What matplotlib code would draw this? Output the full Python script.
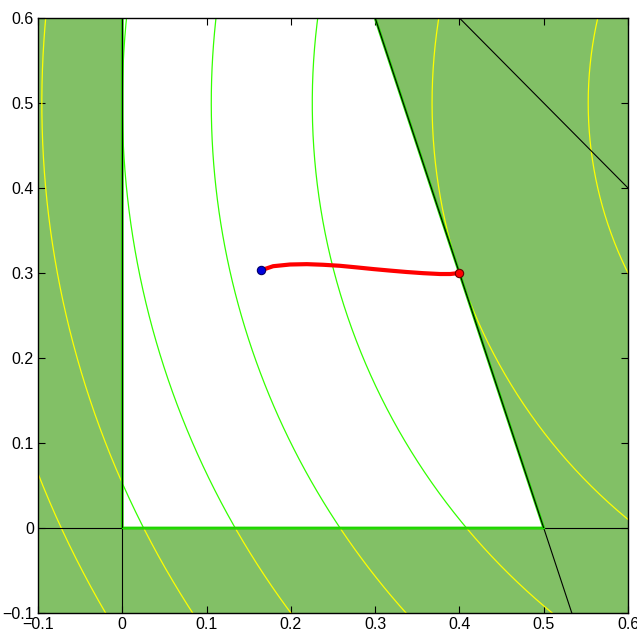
import numpy as np
import matplotlib
matplotlib.use("Agg")
import matplotlib.pyplot as plt

# ========== Data ==========
# objective f(x, y) = (x - cx)^2 + (y - cy)^2, contour levels shown
f_center = (1.0, 0.5)
levels = [0.2, 0.4, 0.6, 0.8, 1.0, 1.2, 1.4]

# constraints A @ [x, y] <= b
A = np.array([[-1.0, 0.0], [0.0, -1.0], [3.0, 1.0], [1.0, 1.0]])
b = np.array([0.0, 0.0, 1.5, 1.0])

# solver trajectory
path_x = [0.164, 0.179, 0.199, 0.219, 0.238, 0.258, 0.278, 0.298,
          0.318, 0.337, 0.357, 0.377, 0.389, 0.400]
path_y = [0.3030, 0.3080, 0.3100, 0.3104, 0.3097, 0.3085, 0.3066, 0.3046,
          0.3028, 0.3012, 0.2998, 0.2988, 0.2988, 0.3000]

xlim = (-0.1, 0.6)
ylim = (-0.1, 0.6)
ticks = np.round(np.arange(-0.1, 0.61, 0.1), 1)
tick_labels = ["\u22120.1", "0", "0.1", "0.2", "0.3", "0.4", "0.5", "0.6"]

FILL = "#82c066"
CONT_IN = "#33ff00"
CONT_OUT = "#ffff00"

plt.rcParams.update({
    "font.family": ["Liberation Sans", "DejaVu Sans"],
    "font.size": 11.5,
})

fig = plt.figure(figsize=(6.37, 6.37), dpi=100)
ax = fig.add_axes([38 / 637, 24 / 637, 590 / 637, 595 / 637])
ax.set_xlim(*xlim)
ax.set_ylim(*ylim)

# ========== infeasible regions ==========
ax.axvspan(xlim[0], 0, color=FILL, lw=0, zorder=1)
ax.axhspan(ylim[0], 0, color=FILL, lw=0, zorder=1)
yy = np.linspace(0, ylim[1], 50)
x_line = (b[2] - A[2, 1] * yy) / A[2, 0]
ax.fill_betweenx(yy, x_line, xlim[1], color=FILL, lw=0, zorder=1)

# ========== contours ==========
t = np.linspace(0, 2 * np.pi, 2000)
for lv in levels:
    r = np.sqrt(lv)
    cx = f_center[0] + r * np.cos(t)
    cy = f_center[1] + r * np.sin(t)
    pts = np.vstack([cx, cy])
    feas = np.all(A @ pts <= b[:, None] + 1e-9, axis=0)
    ax.plot(np.where(feas, cx, np.nan), np.where(feas, cy, np.nan),
            color=CONT_IN, lw=0.9, zorder=3)
    ax.plot(np.where(~feas, cx, np.nan), np.where(~feas, cy, np.nan),
            color=CONT_OUT, lw=0.9, zorder=3)

# ========== constraint lines ==========
ax.axvline(0, color="black", lw=0.8, zorder=4)
ax.axhline(0, color="black", lw=0.8, zorder=4)
for i in (2, 3):
    ys_line = np.array(ylim)
    xs_line = (b[i] - A[i, 1] * ys_line) / A[i, 0]
    ax.plot(xs_line, ys_line, color="black", lw=0.8, zorder=4)

# feasible boundary in bright green, hugging the lines
ytop = ylim[1]
bx = [0, 0, b[2] / A[2, 0], (b[2] - ytop) / A[2, 0]]
by = [ytop, 0, 0, ytop]
ax.plot(bx, by, color="#22dd00", lw=2.0, zorder=3.5)
ax.plot(bx[1:3], by[1:3], color="#22dd00", lw=0.9, zorder=4.5)

# ========== trajectory ==========
ax.plot(path_x, path_y, color="red", lw=3, solid_capstyle="round", zorder=5)
ax.plot(path_x[0], path_y[0], "o", ms=6, mfc="#0000dd", mec="#000066", mew=0.8, zorder=6)
ax.plot(path_x[-1], path_y[-1], "o", ms=6, mfc="red", mec="#660000", mew=0.8, zorder=6)

ax.set_xticks(ticks)
ax.set_xticklabels(tick_labels)
ax.set_yticks(ticks)
ax.set_yticklabels(tick_labels)
ax.tick_params(direction="in", top=True, right=True, length=5, width=0.8, pad=3)
for s in ax.spines.values():
    s.set_linewidth(1.0)
    s.set_zorder(7)

fig.savefig("out.png", dpi=100)
